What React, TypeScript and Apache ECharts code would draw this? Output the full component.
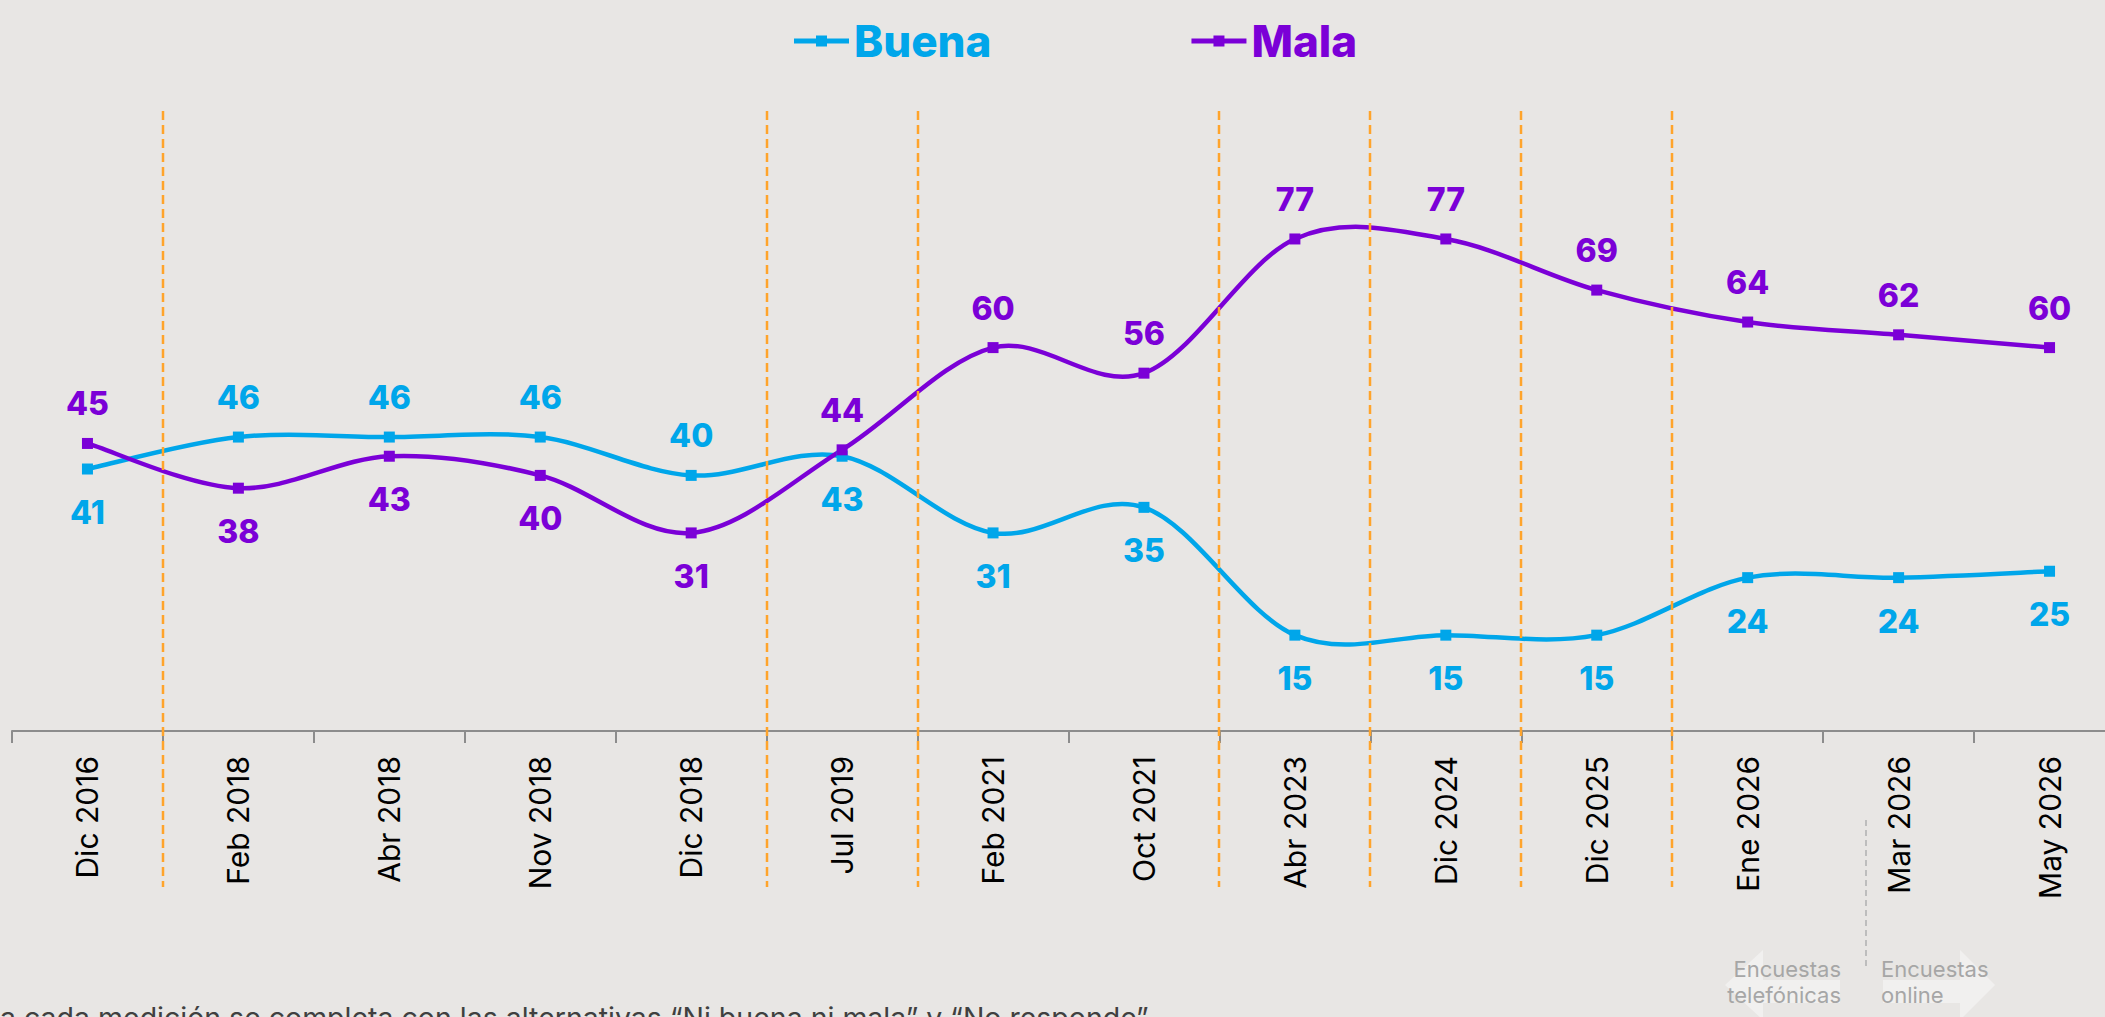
import React, { useEffect, useRef } from "react";
import * as echarts from "echarts";

const categories = [
  "Dic 2016", "Feb 2018", "Abr 2018", "Nov 2018", "Dic 2018", "Jul 2019", "Feb 2021",
  "Oct 2021", "Abr 2023", "Dic 2024", "Dic 2025", "Ene 2026", "Mar 2026", "May 2026",
];
const buena = [41, 46, 46, 46, 40, 43, 31, 35, 15, 15, 15, 24, 24, 25];
const mala = [45, 38, 43, 40, 31, 44, 60, 56, 77, 77, 69, 64, 62, 60];
const buenaLabelPos = ["bottom", "top", "top", "top", "top", "bottom", "bottom", "bottom", "bottom", "bottom", "bottom", "bottom", "bottom", "bottom"];
const malaLabelPos = ["top", "bottom", "bottom", "bottom", "bottom", "top", "top", "top", "top", "top", "top", "top", "top", "top"];
// orange dashed separators drawn between category i and i+1
const separatorsAfter = [0, 4, 5, 7, 8, 9, 10];
const footnote = "a cada medición se completa con las alternativas “Ni buena ni mala” y “No responde”.";

const BG = "#E8E6E4";
const BLUE = "#00A6EA";
const PURPLE = "#7B00D7";
const ORANGE = "#FFA42B";
const FONT = "Inter, 'Noto Sans', sans-serif";
const LEGEND_ICON = "path://M0,3H55V8H0Z M22,0H33V11H22Z";

function labelFor(pos: string) {
  return { position: pos, distance: pos === "top" ? 18 : 22 };
}

// Smooth curve (cardinal spline, Excel-like) drawn through the chart's own coordinate system
function curveSeries(name: string, data: number[], color: string) {
  const n = data.length;
  return {
    type: "custom",
    name,
    data: data.map((v, i) => [i, v]),
    encode: { x: 0, y: 1 },
    silent: true,
    z: 2,
    renderItem: (params: any, api: any) => {
      const i = params.dataIndex;
      if (i >= n - 1) return { type: "group", children: [] };
      const P = (k: number) => {
        const c = Math.max(0, Math.min(n - 1, k));
        return api.coord([c, data[c]]);
      };
      const p0 = P(i - 1), p1 = P(i), p2 = P(i + 1), p3 = P(i + 2);
      return {
        type: "bezierCurve",
        shape: {
          x1: p1[0], y1: p1[1],
          cpx1: p1[0] + (p2[0] - p0[0]) / 6, cpy1: p1[1] + (p2[1] - p0[1]) / 6,
          cpx2: p2[0] - (p3[0] - p1[0]) / 6, cpy2: p2[1] - (p3[1] - p1[1]) / 6,
          x2: p2[0], y2: p2[1],
        },
        style: { stroke: color, lineWidth: 4.5, fill: "none", lineCap: "round" },
      };
    },
  };
}

function pointSeries(name: string, data: number[], pos: string[], color: string) {
  return {
    name,
    type: "line",
    symbol: "rect",
    symbolSize: 11,
    z: 3,
    data: data.map((v, i) => ({ value: v, label: labelFor(pos[i]) })),
    lineStyle: { color, width: 0, opacity: 0 },
    itemStyle: { color },
    label: {
      show: true,
      fontSize: 32,
      fontWeight: 800,
      color,
      fontFamily: FONT,
    },
  };
}

export default function App() {
  const ref = useRef<HTMLDivElement>(null);
  useEffect(() => {
    if (!ref.current) return;
    const chart = echarts.init(ref.current, null, { renderer: "svg" });
    chart.setOption({
      animation: false,
      backgroundColor: BG,
      legend: {
        left: 789,
        top: 14,
        itemWidth: 55,
        itemHeight: 14,
        itemGap: 200,
        data: [
          { name: "Buena", icon: LEGEND_ICON, itemStyle: { color: BLUE }, textStyle: { color: BLUE } },
          { name: "Mala", icon: LEGEND_ICON, itemStyle: { color: PURPLE }, textStyle: { color: PURPLE } },
        ],
        textStyle: { fontSize: 44, fontWeight: 800, fontFamily: FONT },
      },
      grid: { left: 12, top: 92, width: 2113, height: 639, outerBoundsMode: "none", containLabel: false },
      xAxis: {
        type: "category",
        data: categories,
        boundaryGap: true,
        axisLine: { show: true, lineStyle: { color: "#8C8C8C", width: 2 } },
        axisTick: { show: true, alignWithLabel: false, interval: 0, length: 12, lineStyle: { color: "#8C8C8C", width: 2 } },
        axisLabel: {
          rotate: 90,
          interval: 0,
          fontSize: 30,
          color: "#000000",
          fontFamily: FONT,
          margin: 25,
        },
      },
      yAxis: { type: "value", min: 0, max: 100, show: false },
      series: [
        curveSeries("Buena curva", buena, BLUE),
        curveSeries("Mala curva", mala, PURPLE),
        pointSeries("Buena", buena, buenaLabelPos, BLUE),
        pointSeries("Mala", mala, malaLabelPos, PURPLE),
      ],
    });

    const px = (i: number) => chart.convertToPixel({ xAxisIndex: 0 }, i) as number;
    const sepLines = separatorsAfter.map((i) => {
      const x = Math.round((px(i) + px(i + 1)) / 2);
      return {
        type: "line",
        z: 10,
        shape: { x1: x, y1: 111, x2: x, y2: 887 },
        style: { stroke: ORANGE, lineWidth: 2.5, lineDash: [9, 5] },
      };
    });
    const dividerX = Math.round(px(12) - 33);

    chart.setOption({
      graphic: [
        ...sepLines,
        {
          type: "polygon",
          z: 1,
          shape: {
            points: [[1725, 985], [1763, 950], [1763, 980], [1840, 980], [1840, 1003], [1763, 1003], [1763, 1020]],
          },
          style: { fill: "#F1F0EF" },
        },
        {
          type: "polygon",
          z: 1,
          shape: {
            points: [[1995, 985], [1960, 950], [1960, 980], [1883, 980], [1883, 1003], [1960, 1003], [1960, 1020]],
          },
          style: { fill: "#F1F0EF" },
        },
        {
          type: "line",
          z: 2,
          shape: { x1: dividerX, y1: 820, x2: dividerX, y2: 970 },
          style: { stroke: "#BDBDBD", lineWidth: 2, lineDash: [6, 4] },
        },
        {
          type: "text",
          z: 3,
          style: {
            text: "Encuestas\ntelefónicas",
            x: 1841,
            y: 956,
            align: "right",
            verticalAlign: "top",
            font: `22px ${FONT}`,
            lineHeight: 26,
            fill: "#A6A6A6",
          },
        },
        {
          type: "text",
          z: 3,
          style: {
            text: "Encuestas\nonline",
            x: 1881,
            y: 956,
            align: "left",
            verticalAlign: "top",
            font: `22px ${FONT}`,
            lineHeight: 26,
            fill: "#A6A6A6",
          },
        },
        {
          type: "text",
          z: 3,
          style: {
            text: footnote,
            x: 0,
            y: 1003,
            align: "left",
            verticalAlign: "top",
            font: `28.5px ${FONT}`,
            fill: "#404040",
          },
        },
      ],
    });
    return () => chart.dispose();
  }, []);
  return (
    <div
      ref={ref}
      style={{ position: "fixed", left: 0, top: 0, width: 2105, height: 1017 }}
    />
  );
}
